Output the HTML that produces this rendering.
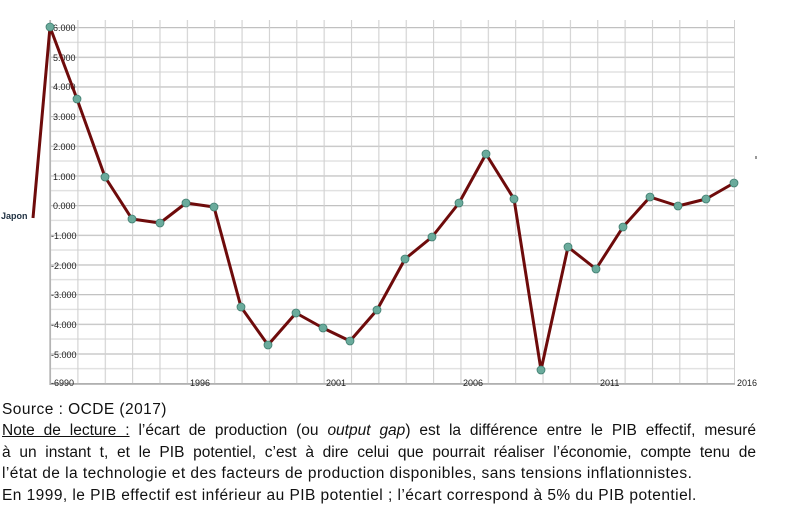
<!DOCTYPE html>
<html><head><meta charset="utf-8"><style>
body{margin:0;width:791px;height:517px;background:#fff;overflow:hidden;position:relative;font-family:"Liberation Sans",sans-serif}
.t{position:absolute;left:2px;width:754px;font-size:15.5px;letter-spacing:0.45px;color:#111;white-space:nowrap}
.j{text-align:justify;text-align-last:justify;white-space:normal;letter-spacing:0}
</style></head><body>
<svg width="791" height="400" style="position:absolute;left:0;top:0">
<defs>
<pattern id="v" x="50" y="0" width="27.36" height="400" patternUnits="userSpaceOnUse"><line x1="0.5" y1="0" x2="0.5" y2="400" stroke="#d0d0d0" stroke-width="1.2"/></pattern>
<pattern id="h" x="0" y="27" width="800" height="29.67" patternUnits="userSpaceOnUse"><line x1="0" y1="0.5" x2="800" y2="0.5" stroke="#c0c0c0" stroke-width="1.5"/><line x1="0" y1="15.3" x2="800" y2="15.3" stroke="#dcdcdc" stroke-width="1.2"/></pattern>
</defs>
<rect x="50" y="27" width="685" height="357" fill="url(#h)"/>
<rect x="50" y="20" width="685" height="364" fill="url(#v)"/>
<line x1="50" y1="20" x2="50" y2="385" stroke="#999" stroke-width="1"/>
<line x1="50" y1="384" x2="735" y2="384" stroke="#aaa" stroke-width="1.5"/>
<g font-size="9" fill="#222" font-family="Liberation Sans,sans-serif">
<text x="53" y="31">6.000</text><text x="53" y="61">5.000</text><text x="53" y="90">4.000</text><text x="53" y="120">3.000</text><text x="53" y="150">2.000</text><text x="53" y="180">1.000</text><text x="53" y="209">0.000</text><text x="51" y="239">-1.000</text><text x="51" y="269">-2.000</text><text x="51" y="298">-3.000</text><text x="51" y="328">-4.000</text><text x="51" y="358">-5.000</text><text x="51" y="386">-6990</text>
<text x="190" y="386">1996</text><text x="326" y="386">2001</text><text x="463" y="386">2006</text><text x="600" y="386">2011</text><text x="737" y="386">2016</text>
</g>
<text x="1" y="219" font-size="9" font-weight="bold" fill="#234">Japon</text>
<polyline fill="none" stroke="#6e0b0b" stroke-width="3" stroke-linejoin="round" points="33,218 50,27 77,99 105,177 132,219 160,223 186,203 214,207 241,307 268,345 296,313 323,328 350,341 377,310 405,259 432,237 459,203 486,154 514,199 541,370 568,247 596,269 623,227 650,197 678,206 706,199 734,183"/>
<g fill="#6aab9c" stroke="#3f7d6f" stroke-width="0.8">
<circle cx="50" cy="27" r="4"/><circle cx="77" cy="99" r="4"/><circle cx="105" cy="177" r="4"/><circle cx="132" cy="219" r="4"/><circle cx="160" cy="223" r="4"/><circle cx="186" cy="203" r="4"/><circle cx="214" cy="207" r="4"/><circle cx="241" cy="307" r="4"/><circle cx="268" cy="345" r="4"/><circle cx="296" cy="313" r="4"/><circle cx="323" cy="328" r="4"/><circle cx="350" cy="341" r="4"/><circle cx="377" cy="310" r="4"/><circle cx="405" cy="259" r="4"/><circle cx="432" cy="237" r="4"/><circle cx="459" cy="203" r="4"/><circle cx="486" cy="154" r="4"/><circle cx="514" cy="199" r="4"/><circle cx="541" cy="370" r="4"/><circle cx="568" cy="247" r="4"/><circle cx="596" cy="269" r="4"/><circle cx="623" cy="227" r="4"/><circle cx="650" cy="197" r="4"/><circle cx="678" cy="206" r="4"/><circle cx="706" cy="199" r="4"/><circle cx="734" cy="183" r="4"/>
</g>
<rect x="755" y="156" width="2" height="3" fill="#999"/>
</svg>
<div class="t" style="top:401px">Source : OCDE (2017)</div>
<div class="t j" style="top:422px"><u>Note de lecture :</u> l’écart de production (ou <i>output gap</i>) est la différence entre le PIB effectif, mesuré</div>
<div class="t j" style="top:444px">à un instant t, et le PIB potentiel, c’est à dire celui que pourrait réaliser l’économie, compte tenu de</div>
<div class="t" style="top:465px">l’état de la technologie et des facteurs de production disponibles, sans tensions inflationnistes.</div>
<div class="t" style="top:487px">En 1999, le PIB effectif est inférieur au PIB potentiel ; l’écart correspond à 5% du PIB potentiel.</div>
</body></html>
